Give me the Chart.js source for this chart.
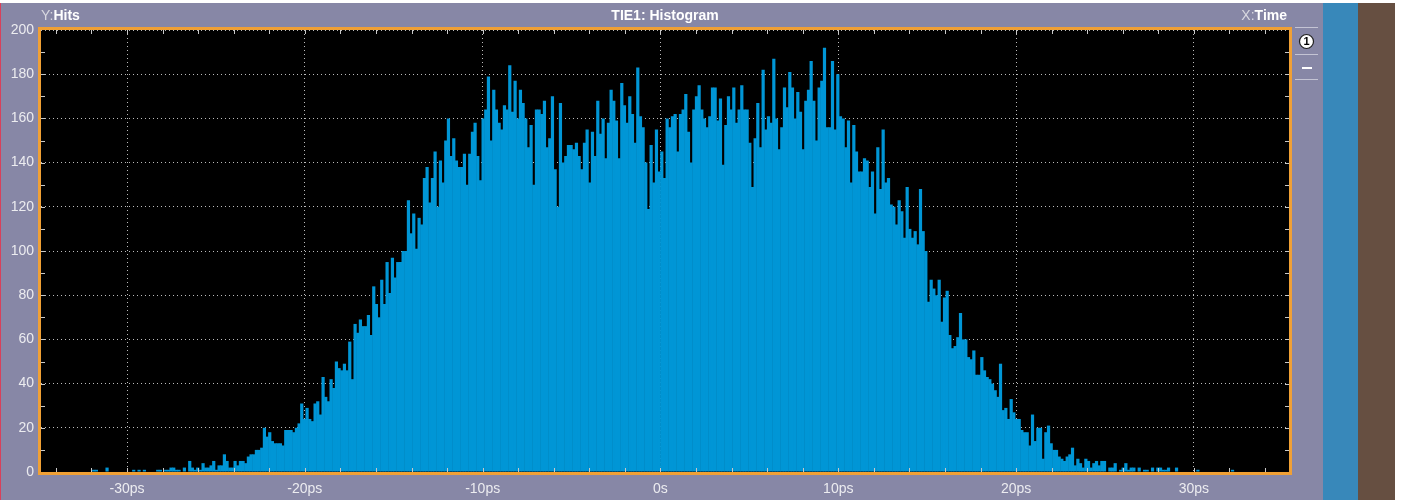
<!DOCTYPE html>
<html>
<head>
<meta charset="utf-8">
<script src="https://cdn.jsdelivr.net/npm/chart.js@4/dist/chart.umd.min.js"></script>
<style>
  html, body { margin: 0; padding: 0; background: #fff; }
  canvas { display: block; }
</style>
</head>
<body>
<canvas id="histo" width="1404" height="500"></canvas>
<script>
// histogram bins: 0.15 ps wide, the first one starts at -32.1 ps
const binStart = -32.1;
const binWidth = 0.15;

const hitsLeftTail = [0,1,1,0,0,0,2,0,0,0,0,0,0,0,0,0,1,0,1,0,1,0,0,0,0,
  1,1,0,1,1,2,2,1,1,0,2,0,5,2,1,2,1,4,2,2,3,5,1,3,3,8,5,2,2,5,3,5,5,4,7,8,8,10,10,11];

const hitsRise = [20,16,18,14,13,13,13,12,19,19, 19,18,20,22,31,24,29,24,23,31,
  32,26,43,34,32,42,38,50,47,46, 49,46,59,42,67,63,69,66,66,71,
  62,84,76,70,87,76,95,81,97,88, 95,95,100,100,123];

const hitsPeakLeft = [108,117,101,115,112,133,138,122,133,145,
  120,141,131,150,160,143,151,141,138,138, 144,130,144,154,158,143,132,160,164,179,
  150,173,164,158,155,166,164,184,163,177, 160,173,167,160,147,157,130,164,164,162,
  168,147,151,170,137,120,167,140,143,148, 148,146,149,143,137,149,155,131,154,143,
  168,153,160,142,158,173,168,159,142,176, 166,158,170,162,149,183,161,156,140,119,
  148,131,155,136];

const hitsPeakRight = [145,133,160,156,161,162,145,162,164,171,
  154,140,164,170,175,164,160,156,161,174, 174,159,169,139,157,170,164,174,158,164,
  175,164,164,149,129,151,167,147,182,155, 161,158,187,160,146,156,174,165,181,174,
  160,172,163,146,168,173,186,168,150,174, 177,192,156,156,186,155,180,161,160,147,
  159,131,157,145,136,136,142,141,129,136, 117,147,128,155,131,133,121,120,112,123,
  118,106,129,110,106,109,103,128,109,100];

const hitsFall = [77,87,83,80,87,68,79,82,62,56, 57,61,72,60,60,52,51,55,44,44,
  52,46,43,42,40,37,34,49];

const hitsRightTail = [28,29,24,33,27,24,24,19,18,18, 12,26,14,20,20,6,18,21,13,10,
  10,7,6,5,7,8,11,3,6,4, 2,6,5,2,4,5,3,5,5,0, 2,2,4,0,1,2,4,1,2,2,
  0,2,0,1,1,0,2,0,2,2, 1,1,2,0,0,2,0,0,0,0, 0,0,0,1,0,0,0,0,0,0, 0,0,0,0,0,0,1];

const xTickValues = [-30, -20, -10, 0, 10, 20, 30];
const xTickLabels = ['-30ps', '-20ps', '-10ps', '0s', '10ps', '20ps', '30ps'];
const yTickValues = [0, 20, 40, 60, 80, 100, 120, 140, 160, 180, 200];

const hits = [].concat(hitsLeftTail, hitsRise, hitsPeakLeft, hitsPeakRight, hitsFall, hitsRightTail);
const points = hits.map((h, i) => ({ x: binStart + binWidth * (i + 0.5), y: h }));

const bgColor = '#8787a6';
const labelFont = 'Liberation Sans';

// scope look: panel background, orange frame, minor ticks, titles
const scopeFrame = {
  id: 'scopeFrame',
  beforeDraw(chart) {
    const ctx = chart.ctx;
    const a = chart.chartArea;
    ctx.save();
    ctx.fillStyle = '#ffffff';
    ctx.fillRect(0, 0, chart.width, chart.height);
    ctx.fillStyle = bgColor;
    ctx.fillRect(0, 3, 1323, chart.height - 3);
    ctx.fillStyle = '#3888ba';
    ctx.fillRect(1323, 3, 35, chart.height - 3);
    ctx.fillStyle = '#664f41';
    ctx.fillRect(1358, 3, 37, chart.height - 3);
    ctx.fillStyle = '#d8405a';
    ctx.fillRect(0, 3, 1, chart.height - 3);
    ctx.fillStyle = '#000000';
    ctx.fillRect(a.left, a.top, a.right - a.left, a.bottom - a.top);
    ctx.restore();
  },
  afterDraw(chart) {
    const ctx = chart.ctx;
    const a = chart.chartArea;
    const xs = chart.scales.x;
    const ys = chart.scales.y;
    ctx.save();

    // minor ticks
    ctx.strokeStyle = '#c8c8c8';
    ctx.lineWidth = 1;
    ctx.beginPath();
    for (let v = -34; v <= 34; v += 2) {
      const px = Math.round(xs.getPixelForValue(v)) + 0.5;
      ctx.moveTo(px, a.bottom); ctx.lineTo(px, a.bottom - 4);
      ctx.moveTo(px, a.top); ctx.lineTo(px, a.top + 4);
    }
    for (let v = 10; v < 200; v += 10) {
      const py = Math.round(ys.getPixelForValue(v)) + 0.5;
      ctx.moveTo(a.left, py); ctx.lineTo(a.left + 4, py);
      ctx.moveTo(a.right, py); ctx.lineTo(a.right - 4, py);
    }
    ctx.stroke();

    // orange frame
    ctx.strokeStyle = '#f0a035';
    ctx.lineWidth = 3;
    ctx.strokeRect(a.left - 1.5, a.top - 1.5, a.right - a.left + 3, a.bottom - a.top + 3);

    // titles
    ctx.textBaseline = 'middle';
    ctx.fillStyle = '#d8d8e0';
    ctx.font = '14px "' + labelFont + '"';
    ctx.textAlign = 'left';
    ctx.fillText('Y:', 41, 16);
    const yw = ctx.measureText('Y:').width;
    ctx.fillStyle = '#ffffff';
    ctx.font = 'bold 14px "' + labelFont + '"';
    ctx.fillText('Hits', 41 + yw, 16);

    ctx.textAlign = 'center';
    ctx.fillText('TIE1: Histogram', 665, 16);

    ctx.textAlign = 'right';
    ctx.fillText('Time', 1287, 16);
    const tw = ctx.measureText('Time').width;
    ctx.fillStyle = '#d8d8e0';
    ctx.font = '14px "' + labelFont + '"';
    ctx.fillText('X:', 1287 - tw, 16);

    // side panel
    ctx.strokeStyle = '#c4c4d4';
    ctx.lineWidth = 1;
    ctx.beginPath();
    [27.5, 54.5, 79.5].forEach(y => { ctx.moveTo(1295, y); ctx.lineTo(1318, y); });
    ctx.stroke();
    ctx.beginPath();
    ctx.arc(1306.5, 41.5, 7, 0, Math.PI * 2);
    ctx.fillStyle = '#ffffff';
    ctx.fill();
    ctx.strokeStyle = '#202020';
    ctx.lineWidth = 1.2;
    ctx.stroke();
    ctx.fillStyle = '#000000';
    ctx.font = 'bold 11px "' + labelFont + '"';
    ctx.textAlign = 'center';
    ctx.fillText('1', 1306.5, 42);
    ctx.fillStyle = '#ffffff';
    ctx.fillRect(1302, 67, 10, 2);

    ctx.restore();
  }
};

new Chart('histo', {
  type: 'bar',
  data: {
    datasets: [{
      data: points,
      backgroundColor: '#0096d6',
      borderWidth: 0,
      inflateAmount: 0,
      barPercentage: 1.2,
      categoryPercentage: 1
    }]
  },
  options: {
    responsive: false,
    animation: false,
    devicePixelRatio: 1,
    layout: { padding: { top: 30, right: 115, left: 0, bottom: 0 } },
    plugins: { legend: { display: false }, tooltip: { enabled: false } },
    scales: {
      x: {
        type: 'linear',
        min: -34.84,
        max: 35.35,
        bounds: 'data',
        offset: false,
        z: 1,
        afterBuildTicks: s => { s.ticks = xTickValues.map(v => ({ value: v })); },
        afterFit: s => { s.height = 28; },
        grid: { color: '#bcbcbc', lineWidth: 1, drawTicks: false, offset: false },
        border: { display: false, dash: [1, 3] },
        ticks: {
          color: '#ececf0',
          font: { family: labelFont, size: 14 },
          padding: 9,
          maxRotation: 0,
          autoSkip: false,
          callback: v => xTickLabels[xTickValues.indexOf(v)]
        }
      },
      y: {
        min: 0,
        max: 200,
        z: 1,
        afterBuildTicks: s => { s.ticks = yTickValues.map(v => ({ value: v })); },
        afterFit: s => { s.width = 41; },
        grid: { color: '#bcbcbc', lineWidth: 1, drawTicks: false },
        border: { display: false, dash: [1, 3] },
        ticks: {
          color: '#ececf0',
          font: { family: labelFont, size: 14 },
          padding: 7
        }
      }
    }
  },
  plugins: [scopeFrame]
});
</script>
</body>
</html>
